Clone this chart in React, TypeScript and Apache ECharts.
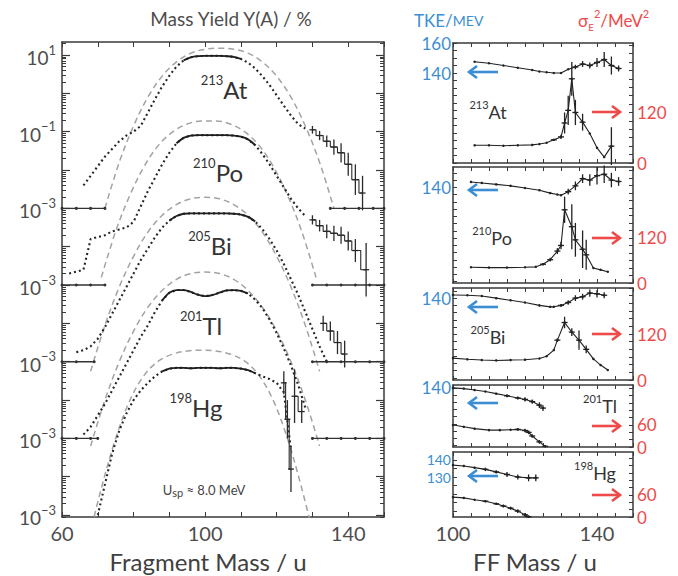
import { useEffect, useRef } from "react";
import * as echarts from "echarts";

// ---------------- Left panel: mass yields, log10(Y / %), each nucleus in its own decades ----------------
const massLabels = [60, 100, 140];
const massTicks = [60, 70, 80, 90, 100, 110, 120, 130, 140, 150];
const decadeLabels = [1, -1, -3, -5, -7, -9, -11];
const decadeLabelSup = ["1", "−1", "−3", "−3", "−3", "−3", "−3"];

const atExpMass = [66, 68, 70, 72, 74, 76, 78, 80, 82, 84, 86, 88, 90, 92, 94, 96, 98, 100, 102, 104, 106, 108, 110, 112, 114, 116, 118, 120, 122, 124, 126, 128];
const atExpLogY = [-2.4, -2.15, -1.9, -1.65, -1.45, -1.25, -1.1, -1.0, -0.85, -0.5, -0.15, 0.18, 0.46, 0.7, 0.86, 0.94, 0.97, 0.98, 0.98, 0.98, 0.97, 0.95, 0.9, 0.8, 0.65, 0.45, 0.22, -0.05, -0.32, -0.58, -0.8, -0.92];
const atCalcMass = [72, 76, 80, 84, 88, 92, 96, 100, 104, 108, 112, 116, 120, 124, 128, 132, 136];
const atCalcLogY = [-3.0, -1.8, -0.85, -0.1, 0.45, 0.82, 1.05, 1.15, 1.18, 1.15, 1.05, 0.82, 0.45, -0.1, -0.85, -1.8, -3.0];
const atTailMass = [130, 132, 134, 136, 138, 140, 142, 144];
const atTailLogY = [-0.95, -1.1, -1.25, -1.4, -1.55, -1.85, -2.25, -2.6];
const atTailErr = [0.1, 0.12, 0.15, 0.2, 0.25, 0.3, 0.4, 0.45];
const atBaseLeft = [60, 64, 68, 72];
const atBaseRight = [135, 139, 143, 147, 150];
const atPlateau = [94, 110];

const poExpMass = [62, 64, 66, 68, 70, 72, 74, 76, 78, 80, 82, 84, 86, 88, 90, 92, 94, 96, 98, 100, 102, 104, 106, 108, 110, 112, 114, 116, 118, 120, 122, 124, 126, 128];
const poExpLogY = [-2.7, -2.65, -2.6, -1.8, -1.75, -1.7, -1.6, -1.55, -1.5, -1.35, -0.95, -0.55, -0.2, 0.15, 0.45, 0.7, 0.84, 0.9, 0.91, 0.91, 0.91, 0.91, 0.91, 0.9, 0.87, 0.8, 0.65, 0.42, 0.15, -0.15, -0.45, -0.75, -1.0, -1.2];
const poCalcMass = [71, 75, 79, 83, 87, 91, 95, 99, 103, 107, 111, 115, 119, 123, 127, 131];
const poCalcLogY = [-2.8, -1.6, -0.65, 0.1, 0.65, 1.0, 1.2, 1.28, 1.28, 1.2, 1.0, 0.65, 0.1, -0.65, -1.6, -2.8];
const poTailMass = [130, 132, 134, 136, 138, 140, 142, 145];
const poTailLogY = [-1.3, -1.45, -1.6, -1.65, -1.7, -1.85, -2.1, -2.6];
const poTailErr = [0.12, 0.15, 0.18, 0.2, 0.22, 0.25, 0.3, 0.7];
const poBaseLeft = [60, 64, 68, 72];
const poBaseRight = [130, 134, 138, 142, 146, 150];
const poPlateau = [92, 114];

const biExpMass = [64, 66, 68, 70, 72, 74, 76, 78, 80, 82, 84, 86, 88, 90, 92, 94, 96, 98, 100, 102, 104, 106, 108, 110, 112, 114, 116, 118, 120, 122, 124, 126, 128, 130, 132, 134];
const biExpLogY = [-2.75, -2.7, -2.6, -2.4, -2.1, -1.75, -1.4, -1.05, -0.7, -0.35, -0.05, 0.25, 0.5, 0.68, 0.8, 0.86, 0.87, 0.87, 0.87, 0.87, 0.87, 0.87, 0.86, 0.84, 0.78, 0.66, 0.46, 0.2, -0.1, -0.45, -0.85, -1.25, -1.7, -2.15, -2.6, -3.0];
const biCalcMass = [68, 72, 76, 80, 84, 88, 92, 96, 100, 104, 108, 112, 116, 120, 124, 128, 132];
const biCalcLogY = [-3.25, -2.05, -1.05, -0.25, 0.38, 0.82, 1.1, 1.25, 1.29, 1.25, 1.1, 0.82, 0.38, -0.25, -1.05, -2.05, -3.25];
const biTailMass = [133, 135, 137, 139];
const biTailLogY = [-2.0, -2.2, -2.5, -2.8];
const biTailErr = [0.2, 0.25, 0.3, 0.35];
const biBaseLeft = [60, 64, 69];
const biBaseRight = [130, 134, 138, 142, 146, 150];
const biPlateau = [90, 114];

const tlExpMass = [66, 68, 70, 72, 74, 76, 78, 80, 82, 84, 86, 88, 90, 92, 94, 96, 98, 100, 102, 104, 106, 108, 110, 112, 114, 116, 118, 120, 122, 124, 126, 128];
const tlExpLogY = [-2.9, -2.7, -2.4, -2.1, -1.75, -1.4, -1.05, -0.7, -0.35, -0.05, 0.3, 0.6, 0.8, 0.87, 0.87, 0.82, 0.75, 0.71, 0.74, 0.8, 0.86, 0.87, 0.85, 0.78, 0.62, 0.4, 0.1, -0.25, -0.65, -1.1, -1.6, -2.2];
const tlCalcMass = [68, 72, 76, 80, 84, 88, 92, 96, 100, 104, 108, 112, 116, 120, 124, 128, 132];
const tlCalcLogY = [-3.2, -2.0, -1.0, -0.2, 0.42, 0.86, 1.15, 1.3, 1.34, 1.3, 1.15, 0.86, 0.42, -0.2, -1.0, -2.0, -3.2];
const tlTailMass = [125, 127];
const tlTailLogY = [-1.9, -2.3];
const tlTailErr = [0.7, 0.3];
const tlBaseLeft = [60, 64, 68, 70];
const tlBaseRight = [130, 134, 138, 142, 146, 150];
const tlPlateau = [88, 112];

const hgExpMass = [70, 72, 74, 76, 78, 80, 82, 84, 86, 88, 90, 92, 94, 96, 98, 100, 102, 104, 106, 108, 110, 112, 114, 116, 118, 120, 122, 124];
const hgExpLogY = [-3.0, -2.2, -1.4, -0.8, -0.35, 0.0, 0.25, 0.45, 0.62, 0.75, 0.82, 0.84, 0.84, 0.83, 0.84, 0.84, 0.84, 0.83, 0.84, 0.84, 0.82, 0.78, 0.7, 0.62, 0.55, 0.45, 0.2, -1.3];
const hgCalcMass = [67, 71, 75, 79, 83, 87, 91, 95, 99, 103, 107, 111, 115, 119, 123, 127, 131];
const hgCalcLogY = [-3.8, -2.3, -1.0, 0.0, 0.65, 1.02, 1.2, 1.28, 1.3, 1.28, 1.2, 1.02, 0.65, 0.0, -1.0, -2.3, -3.8];
const hgTailMass = [122, 123, 124];
const hgTailLogY = [0.45, -0.5, -1.8];
const hgTailErr = [0.3, 0.5, 0.6];
const hgBaseLeft: number[] = [];
const hgBaseRight: number[] = [];
const hgPlateau = [88, 114];

// ---------------- Right panels: TKE (MeV) and sigma_E^2 (MeV^2) vs FF mass ----------------
const ffLabels = [100, 140];
const tkeLabels = [[140, 160], [140], [140], [140], [130, 140]];
const sigLabels = [[0, 120], [0, 120], [0, 120], [0, 60], [0, 60]];

const atTkeMass = [106, 110, 114, 118, 122, 124, 126, 128, 130, 132, 134, 136, 138, 140, 142, 144, 146];
const atTke = [147.5, 146.5, 145, 143.5, 142, 141, 140.5, 140, 140, 142.5, 144, 146, 145, 147, 149, 145, 143];
const atTkeErr = [0, 0, 0, 0, 0, 0, 0, 0, 0, 0, 1.5, 2, 2, 3, 5, 6, 2];
const atSigMass = [106, 110, 114, 118, 122, 124, 126, 128, 130, 131, 132, 133, 134, 136, 138, 140, 142, 144];
const atSig = [42, 42, 41, 42, 43, 45, 48, 55, 62, 95, 125, 200, 120, 97, 70, 36, 14, 40];
const atSigErr = [0, 0, 0, 0, 0, 0, 0, 2, 5, 25, 35, 40, 30, 20, 0, 0, 0, 45];

const poTkeMass = [105, 108, 112, 116, 120, 124, 127, 129, 130, 132, 134, 136, 138, 140, 142, 144, 146];
const poTke = [143.7, 143, 142, 141, 139.5, 138, 136, 135, 134.5, 137, 141, 146, 145, 148, 149, 145, 144];
const poTkeErr = [0, 0, 0, 0, 0, 0, 0, 0, 0, 2, 3, 3, 4, 6, 6, 5, 3];
const poSigMass = [105, 110, 115, 120, 123, 125, 127, 129, 130, 131, 133, 134, 136, 137, 139, 141, 143];
const poSig = [42, 41, 41, 42, 43, 50, 62, 85, 100, 195, 150, 115, 90, 75, 40, 35, 30];
const poSigErr = [0, 0, 0, 0, 0, 3, 5, 8, 10, 35, 60, 45, 50, 40, 0, 0, 0];

const biTkeMass = [100, 104, 108, 112, 116, 120, 124, 127, 128, 130, 132, 134, 136, 138, 140, 142];
const biTke = [142.2, 142, 141.5, 140, 138.5, 137, 135, 134, 134, 135, 137, 140, 141, 143.5, 143, 142];
const biTkeErr = [0, 0, 0, 0, 0, 0, 0, 0, 0, 1, 1.5, 2, 2, 2.5, 2.5, 2];
const biSigMass = [100, 104, 108, 112, 116, 120, 124, 126, 128, 129, 131, 133, 135, 137, 139, 141, 143];
const biSig = [57, 54, 52, 51, 52, 53, 56, 62, 78, 104, 150, 125, 104, 80, 55, 39, 26];
const biSigErr = [0, 0, 0, 0, 0, 0, 0, 0, 0, 5, 15, 10, 25, 10, 0, 0, 0];

const tlTkeMass = [100, 103, 106, 109, 112, 115, 118, 120, 122, 124, 125];
const tlTke = [140, 139.5, 138.5, 137.5, 136, 134.5, 133, 132, 130.5, 128, 126];
const tlTkeErr = [0, 0, 0, 0, 0, 1, 1, 1.5, 1.5, 2, 2];
const tlSigMass = [100, 103, 106, 110, 113, 116, 118, 120, 121, 122, 124, 125.6];
const tlSig = [60, 55, 50, 46, 46, 47, 48, 45, 40, 30, 14, 2];
const tlSigErr = [0, 0, 0, 0, 0, 0, 3, 5, 5, 5, 5, 3];

const hgTkeMass = [100, 103, 106, 109, 112, 115, 118, 121, 123];
const hgTke = [137, 136.5, 135.5, 134.5, 133, 131.5, 130, 129.5, 129.5];
const hgTkeErr = [0, 0, 0, 1, 1, 1.5, 1.5, 2, 2];
const hgSigMass = [100, 103, 106, 109, 112, 114, 116, 118, 120, 121];
const hgSig = [54, 52, 47, 43, 36, 30, 24, 16, 6, 1];
const hgSigErr = [0, 0, 0, 3, 3, 4, 4, 5, 5, 3];

// ---------------- layout / style ----------------
const FONT = "Lato, 'Open Sans', sans-serif";
const AXIS = "#3a3a3a";
const GRAYTXT = "#4d4d4d";
const BLUE = "#3b8ed4";
const RED = "#ee4a4a";
const LOG_MIN = -11.05;
const LOG_MAX = 1.34;
const RP_LEFT = 453;
const RP_WIDTH = 180;
const RP_TOP = [43, 167, 288, 385, 452];
const RP_HEIGHT = [120, 116, 92, 62, 65];
const TKE_MIN = [80, 74, 83.5, 99, 106.5];
const TKE_MAX = [160, 154, 147, 142, 144.7];
const SIG_MAX = [285, 309, 240, 169, 177];

const nuclides = [
  { a: "213", s: "At", expMass: atExpMass, expLogY: atExpLogY, calcMass: atCalcMass, calcLogY: atCalcLogY, tailMass: atTailMass, tailLogY: atTailLogY, tailErr: atTailErr, baseL: atBaseLeft, baseR: atBaseRight, plateau: atPlateau },
  { a: "210", s: "Po", expMass: poExpMass, expLogY: poExpLogY, calcMass: poCalcMass, calcLogY: poCalcLogY, tailMass: poTailMass, tailLogY: poTailLogY, tailErr: poTailErr, baseL: poBaseLeft, baseR: poBaseRight, plateau: poPlateau },
  { a: "205", s: "Bi", expMass: biExpMass, expLogY: biExpLogY, calcMass: biCalcMass, calcLogY: biCalcLogY, tailMass: biTailMass, tailLogY: biTailLogY, tailErr: biTailErr, baseL: biBaseLeft, baseR: biBaseRight, plateau: biPlateau },
  { a: "201", s: "Tl", expMass: tlExpMass, expLogY: tlExpLogY, calcMass: tlCalcMass, calcLogY: tlCalcLogY, tailMass: tlTailMass, tailLogY: tlTailLogY, tailErr: tlTailErr, baseL: tlBaseLeft, baseR: tlBaseRight, plateau: tlPlateau },
  { a: "198", s: "Hg", expMass: hgExpMass, expLogY: hgExpLogY, calcMass: hgCalcMass, calcLogY: hgCalcLogY, tailMass: hgTailMass, tailLogY: hgTailLogY, tailErr: hgTailErr, baseL: hgBaseLeft, baseR: hgBaseRight, plateau: hgPlateau },
];

const panels = [
  { tkeMass: atTkeMass, tke: atTke, tkeErr: atTkeErr, sigMass: atSigMass, sig: atSig, sigErr: atSigErr },
  { tkeMass: poTkeMass, tke: poTke, tkeErr: poTkeErr, sigMass: poSigMass, sig: poSig, sigErr: poSigErr },
  { tkeMass: biTkeMass, tke: biTke, tkeErr: biTkeErr, sigMass: biSigMass, sig: biSig, sigErr: biSigErr },
  { tkeMass: tlTkeMass, tke: tlTke, tkeErr: tlTkeErr, sigMass: tlSigMass, sig: tlSig, sigErr: tlSigErr },
  { tkeMass: hgTkeMass, tke: hgTke, tkeErr: hgTkeErr, sigMass: hgSigMass, sig: hgSig, sigErr: hgSigErr },
];

// labels / arrows positions (pixels)
const leftLabelPos = [[224, 87], [218, 170], [210, 243], [201, 323], [196, 405]];
const rightLabelPos = [[488, 110], [492, 236], [488, 335], [600, 404], [595, 471]];
const blueArrowY = [72, 190, 307, 403, 476];
const redArrowY = [112, 238, 334, 426, 495];

function steps(a: number, b: number, st: number) {
  const r: number[] = [];
  for (let v = Math.ceil(a / st) * st; v <= b + 1e-9; v += st) r.push(+v.toFixed(6));
  return r;
}

function errRender(color: string) {
  return (params: any, api: any) => {
    const x = api.value(0), y = api.value(1), e = api.value(2);
    const p = api.coord([x, y]);
    const hi = api.coord([x, y + e]);
    const lo = api.coord([x, y - e]);
    return {
      type: "group",
      children: [
        { type: "line", shape: { x1: p[0], y1: hi[1], x2: p[0], y2: lo[1] }, style: { stroke: color, lineWidth: 1.3 } },
        { type: "line", shape: { x1: p[0] - 3, y1: p[1], x2: p[0] + 3, y2: p[1] }, style: { stroke: color, lineWidth: 1.3 } },
      ],
    };
  };
}

function arrow(x1: number, x2: number, y: number, color: string, left: boolean) {
  const tip = left ? x1 : x2;
  const d = left ? 8 : -8;
  return {
    type: "group",
    children: [
      { type: "line", shape: { x1, y1: y, x2, y2: y }, style: { stroke: color, lineWidth: 2.6 } },
      { type: "polyline", shape: { points: [[tip + d, y - 6], [tip, y], [tip + d, y + 6]] }, style: { stroke: color, lineWidth: 2.6, fill: "none" } },
    ],
  };
}

function buildOption() {
  const grids: any[] = [{ left: 62, top: 42, width: 322, height: 475, containLabel: false, outerBoundsMode: "none" }];
  RP_TOP.forEach((t, i) => grids.push({ left: RP_LEFT, top: t, width: RP_WIDTH, height: RP_HEIGHT[i], containLabel: false, outerBoundsMode: "none" }));

  const axisLine = { show: true, onZero: false, lineStyle: { color: AXIS, width: 1.5 } };
  const noLine = { show: false, onZero: false };
  const majorDec: number[] = [];
  for (let d = -11; d <= 1; d++) majorDec.push(d);
  const minorDec: number[] = [];
  for (let d = -12; d <= 1; d++) for (let m = 2; m <= 9; m++) {
    const v = d + Math.log10(m);
    if (v > LOG_MIN && v < LOG_MAX) minorDec.push(v);
  }

  const xAxis: any[] = [
    { gridIndex: 0, type: "value", min: 60, max: 150, position: "bottom", axisLine, splitLine: { show: false },
      axisTick: { inside: true, length: 5, customValues: massTicks, lineStyle: { color: AXIS } },
      axisLabel: { customValues: massLabels, color: GRAYTXT, fontSize: 20, fontFamily: FONT, margin: 6 } },
    { gridIndex: 0, type: "value", min: 60, max: 150, position: "top", axisLine, splitLine: { show: false },
      axisTick: { inside: true, length: 5, customValues: massTicks, lineStyle: { color: AXIS } }, axisLabel: { show: false } },
  ];
  const yAxis: any[] = [
    { gridIndex: 0, type: "value", min: LOG_MIN, max: LOG_MAX, position: "left", axisLine, splitLine: { show: false },
      axisTick: { inside: true, length: 8, customValues: majorDec, lineStyle: { color: AXIS, width: 1.2 } },
      axisLabel: {
        customValues: decadeLabels, margin: 6,
        formatter: (v: number) => {
          const i = decadeLabels.findIndex((d) => Math.abs(d - v) < 1e-6);
          return `{b|10}{s|${decadeLabelSup[i < 0 ? 2 : i]}}`;
        },
        rich: {
          b: { fontSize: 19, fontFamily: FONT, color: GRAYTXT, lineHeight: 24, verticalAlign: "bottom" },
          s: { fontSize: 13, fontFamily: FONT, color: GRAYTXT, lineHeight: 24, verticalAlign: "top" },
        },
      } },
    { gridIndex: 0, type: "value", min: LOG_MIN, max: LOG_MAX, position: "left", axisLine: noLine, splitLine: { show: false },
      axisTick: { inside: true, length: 4, customValues: minorDec, lineStyle: { color: AXIS } }, axisLabel: { show: false } },
    { gridIndex: 0, type: "value", min: LOG_MIN, max: LOG_MAX, position: "right", axisLine, splitLine: { show: false },
      axisTick: { inside: true, length: 8, customValues: majorDec, lineStyle: { color: AXIS, width: 1.2 } }, axisLabel: { show: false } },
    { gridIndex: 0, type: "value", min: LOG_MIN, max: LOG_MAX, position: "right", axisLine: noLine, splitLine: { show: false },
      axisTick: { inside: true, length: 4, customValues: minorDec, lineStyle: { color: AXIS } }, axisLabel: { show: false } },
  ];

  panels.forEach((_, i) => {
    const g = i + 1;
    const last = i === panels.length - 1;
    xAxis.push({ gridIndex: g, type: "value", min: 100, max: 150, position: "bottom", axisLine, splitLine: { show: false },
      axisTick: { inside: true, length: 4, customValues: steps(100, 150, 5), lineStyle: { color: AXIS } },
      axisLabel: last ? { customValues: ffLabels, color: GRAYTXT, fontSize: 20, fontFamily: FONT, margin: 6 } : { show: false } });
    xAxis.push({ gridIndex: g, type: "value", min: 100, max: 150, position: "top", axisLine, splitLine: { show: false },
      axisTick: { inside: true, length: 4, customValues: steps(100, 150, 5), lineStyle: { color: AXIS } }, axisLabel: { show: false } });
    yAxis.push({ gridIndex: g, type: "value", min: TKE_MIN[i], max: TKE_MAX[i], position: "left", axisLine, splitLine: { show: false },
      axisTick: { inside: true, length: 4, customValues: steps(TKE_MIN[i], TKE_MAX[i], 5), lineStyle: { color: AXIS } },
      axisLabel: { customValues: tkeLabels[i], color: BLUE, fontSize: last ? 14 : 17, lineHeight: last ? 13 : 17, fontFamily: FONT, margin: 2 } });
    yAxis.push({ gridIndex: g, type: "value", min: 0, max: SIG_MAX[i], position: "right", axisLine, splitLine: { show: false },
      axisTick: { inside: true, length: 4, customValues: steps(0, SIG_MAX[i], 20), lineStyle: { color: AXIS } },
      axisLabel: { customValues: sigLabels[i], color: RED, fontSize: 17, fontFamily: FONT, margin: 4 } });
  });

  const series: any[] = [];
  nuclides.forEach((n, k) => {
    const off = -2 * k;
    const exp = n.expMass.map((m, i) => [m, n.expLogY[i] + off]);
    series.push({ type: "line", xAxisIndex: 0, yAxisIndex: 0, data: n.calcMass.map((m, i) => [m, n.calcLogY[i] + off]),
      smooth: 0.35, symbol: "none", lineStyle: { color: "#a3a3a3", width: 1.5, type: [6, 4] }, z: 2 });
    series.push({ type: "line", xAxisIndex: 0, yAxisIndex: 0, data: exp, symbol: "none",
      lineStyle: { color: "#262626", width: 2.1, type: [2, 3] }, z: 3 });
    series.push({ type: "line", xAxisIndex: 0, yAxisIndex: 0, data: exp.filter((p) => p[0] >= n.plateau[0] && p[0] <= n.plateau[1]),
      smooth: 0.3, symbol: "none", lineStyle: { color: "#1e1e1e", width: 1.8 }, z: 4 });
    [n.baseL, n.baseR].forEach((b) => {
      if (!b.length) return;
      series.push({ type: "line", xAxisIndex: 0, yAxisIndex: 0, data: b.map((m) => [m, -3 + off]), symbol: "circle", symbolSize: 3,
        itemStyle: { color: "#333" }, lineStyle: { color: "#333", width: 1.4 }, z: 3 });
    });
    const tail = n.tailMass.map((m, i) => [m, n.tailLogY[i] + off, n.tailErr[i]]);
    series.push({ type: "line", xAxisIndex: 0, yAxisIndex: 0, data: tail.map((p) => [p[0], p[1]]), step: "middle", symbol: "none",
      lineStyle: { color: "#2a2a2a", width: 1.1 }, z: 3 });
    series.push({ type: "custom", coordinateSystem: "cartesian2d", xAxisIndex: 0, yAxisIndex: 0, data: tail, renderItem: errRender("#2a2a2a"), z: 4 });
  });

  panels.forEach((p, i) => {
    const xi = 2 + 2 * i, yl = 4 + 2 * i, yr = 5 + 2 * i;
    const tke = p.tkeMass.map((m, j) => [m, p.tke[j], p.tkeErr[j]]);
    const sig = p.sigMass.map((m, j) => [m, p.sig[j], p.sigErr[j]]);
    series.push({ type: "line", xAxisIndex: xi, yAxisIndex: yl, data: tke.map((d) => [d[0], d[1]]), symbol: "circle", symbolSize: 2.5,
      itemStyle: { color: "#222" }, lineStyle: { color: "#222", width: 1.1 } });
    series.push({ type: "line", xAxisIndex: xi, yAxisIndex: yr, data: sig.map((d) => [d[0], d[1]]), symbol: "circle", symbolSize: 2.5,
      itemStyle: { color: "#222" }, lineStyle: { color: "#222", width: 1.1 } });
    series.push({ type: "custom", coordinateSystem: "cartesian2d", xAxisIndex: xi, yAxisIndex: yl, data: tke.filter((d) => d[2] > 0), renderItem: errRender("#222") });
    series.push({ type: "custom", coordinateSystem: "cartesian2d", xAxisIndex: xi, yAxisIndex: yr, data: sig.filter((d) => d[2] > 0), renderItem: errRender("#222") });
  });

  const graphic: any[] = [
    { type: "text", x: 231, y: 18, style: { text: "Mass Yield Y(A) / %", font: `19px ${FONT}`, fill: GRAYTXT, textAlign: "center", textVerticalAlign: "middle" } },
    { type: "text", x: 208, y: 561, style: { text: "Fragment Mass / u", font: `24px ${FONT}`, fill: "#404040", textAlign: "center", textVerticalAlign: "middle" } },
    { type: "text", x: 535, y: 561, style: { text: "FF Mass / u", font: `24px ${FONT}`, fill: "#404040", textAlign: "center", textVerticalAlign: "middle" } },
    { type: "text", x: 414, y: 20, style: { text: "{a|TKE/}{b|MEV}", textAlign: "left", textVerticalAlign: "middle",
      rich: { a: { fontSize: 17, fontFamily: FONT, fill: BLUE }, b: { fontSize: 14, fontFamily: FONT, fill: BLUE } } } },
    { type: "text", x: 578, y: 20, style: { text: "{a|σ}{sub|E}{sup|2}{a|/MeV}{sup|2}", textAlign: "left", textVerticalAlign: "middle",
      rich: {
        a: { fontSize: 17, fontFamily: FONT, fill: RED, lineHeight: 24, verticalAlign: "middle" },
        sub: { fontSize: 10, fontFamily: FONT, fill: RED, lineHeight: 24, verticalAlign: "bottom" },
        sup: { fontSize: 11, fontFamily: FONT, fill: RED, lineHeight: 24, verticalAlign: "top" },
      } } },
    { type: "text", x: 204, y: 490, style: { text: "{a|U}{s|sp}{a| ≈ 8.0 MeV}", textAlign: "center", textVerticalAlign: "middle",
      rich: { a: { fontSize: 13, fontFamily: FONT, fill: "#444" }, s: { fontSize: 11, fontFamily: FONT, fill: "#444", padding: [4, 0, 0, 0] } } } },
  ];
  nuclides.forEach((n, k) => {
    graphic.push({ type: "text", x: leftLabelPos[k][0], y: leftLabelPos[k][1], style: { text: `{s|${n.a}}{b|${n.s}}`, textAlign: "center", textVerticalAlign: "middle",
      rich: { s: { fontSize: 13, fontFamily: FONT, fill: "#333", lineHeight: 28, verticalAlign: "top" }, b: { fontSize: 24, fontFamily: FONT, fill: "#333", lineHeight: 28, verticalAlign: "bottom" } } } });
    graphic.push({ type: "text", x: rightLabelPos[k][0], y: rightLabelPos[k][1], style: { text: `{s|${n.a}}{b|${n.s}}`, textAlign: "center", textVerticalAlign: "middle",
      rich: { s: { fontSize: 11, fontFamily: FONT, fill: "#333", lineHeight: 22, verticalAlign: "top" }, b: { fontSize: 18, fontFamily: FONT, fill: "#333", lineHeight: 22, verticalAlign: "bottom" } } } });
    graphic.push(arrow(469, 498, blueArrowY[k], BLUE, true));
    graphic.push(arrow(592, 620, redArrowY[k], RED, false));
  });

  return { animation: false, backgroundColor: "#fff", grid: grids, xAxis, yAxis, series, graphic };
}

export default function App() {
  const ref = useRef<HTMLDivElement>(null);
  useEffect(() => {
    const chart = echarts.init(ref.current!, null, { renderer: "svg" });
    chart.setOption(buildOption() as any);
    return () => chart.dispose();
  }, []);
  return <div ref={ref} style={{ position: "fixed", left: 0, top: 0, width: 678, height: 576, background: "#fff" }} />;
}
